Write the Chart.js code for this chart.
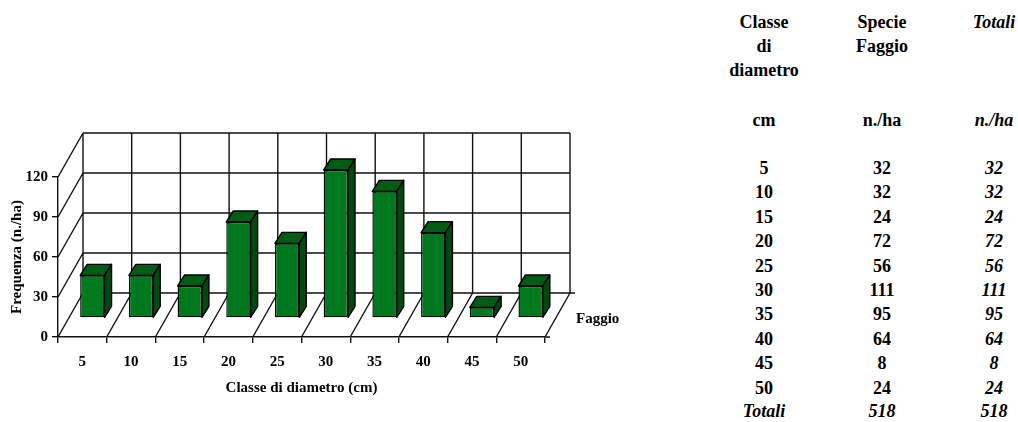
<!DOCTYPE html>
<html lang="it">
<head>
<meta charset="UTF-8">
<script src="https://cdn.jsdelivr.net/npm/chart.js"></script>
<title>Classe di diametro</title>
<style>
  html, body { margin: 0; padding: 0; background: #fff; }
  body { width: 1018px; height: 422px; position: relative; overflow: hidden; }
  #grafico { position: absolute; left: 0; top: 0; }
  .cella {
    position: absolute; width: 120px; text-align: center;
    font: bold 18px "Liberation Serif", "Times New Roman", serif;
    line-height: 24px; color: #000; white-space: nowrap;
  }
  .it { font-style: italic; }
</style>
</head>
<body>
<canvas id="grafico" width="660" height="422"></canvas>
<div id="tabella"></div>

<script>
  // dati
  const classi = ['5', '10', '15', '20', '25', '30', '35', '40', '45', '50'];
  const faggio = [32, 32, 24, 72, 56, 111, 95, 64, 8, 24];
  const totali = [32, 32, 24, 72, 56, 111, 95, 64, 8, 24];
  const yTicks = [0, 30, 60, 90, 120];

  // profondità 3D (pixel)
  const DX = 25, DY = -44;       // parete di fondo
  const BX = 10, BY = -19;       // faccia anteriore delle barre
  const PX = 7, PY = -11;        // spessore delle barre

  const verde = '#00781e', verdeTop = '#005c15', verdeLato = '#004a10';
  const linea = 1.4;

  const tre = {
    id: 'tre',
    beforeDatasetsDraw(chart) {
      const ctx = chart.ctx;
      const a = chart.chartArea;
      const y = chart.scales.y;
      const y0 = y.getPixelForValue(0), yMax = y.getPixelForValue(120);
      const n = classi.length;
      const step = (a.right - a.left) / n;
      ctx.save();
      ctx.strokeStyle = '#111';
      ctx.lineWidth = linea;
      ctx.beginPath();
      // parete sinistra e fondo: linee orizzontali
      yTicks.forEach(v => {
        const py = y.getPixelForValue(v) + DY;
        ctx.moveTo(a.left, y.getPixelForValue(v));
        ctx.lineTo(a.left + DX, py);
        ctx.moveTo(a.left + DX, py);
        ctx.lineTo(a.right + DX, py);
      });
      // verticali della parete di fondo e diagonali del pavimento
      for (let i = 0; i <= n; i++) {
        const bx = a.left + i * step;
        ctx.moveTo(bx + DX, y0 + DY);
        ctx.lineTo(bx + DX, yMax + DY);
        ctx.moveTo(bx, y0);
        ctx.lineTo(bx + DX, y0 + DY);
      }
      // tacche dell'asse di profondità
      ctx.moveTo(a.right, y0);
      ctx.lineTo(a.right + 5, y0);
      ctx.moveTo(a.right + DX, y0 + DY);
      ctx.lineTo(a.right + DX + 5, y0 + DY);
      ctx.stroke();

      // nome della serie
      ctx.fillStyle = '#000';
      ctx.font = 'bold 15px "Liberation Serif", serif';
      ctx.textBaseline = 'middle';
      ctx.fillText(chart.data.datasets[0].label, a.right + DX + 6, y0 + BY + 1);
      ctx.restore();

      ctx.save();
      ctx.translate(BX, BY);
    },
    afterDatasetsDraw(chart) {
      const ctx = chart.ctx;
      ctx.restore();
      ctx.save();
      ctx.strokeStyle = '#000';
      ctx.lineWidth = linea;
      ctx.lineJoin = 'round';
      chart.getDatasetMeta(0).data.forEach(bar => {
        const p = bar.getProps(['x', 'y', 'base', 'width'], true);
        const x0 = p.x - p.width / 2 + BX, x1 = p.x + p.width / 2 + BX;
        const t = p.y + BY, b = p.base + BY;
        ctx.beginPath();
        ctx.moveTo(x0, t);
        ctx.lineTo(x0 + PX, t + PY);
        ctx.lineTo(x1 + PX, t + PY);
        ctx.lineTo(x1, t);
        ctx.closePath();
        ctx.fillStyle = verdeTop;
        ctx.fill();
        ctx.stroke();
        ctx.beginPath();
        ctx.moveTo(x1, t);
        ctx.lineTo(x1 + PX, t + PY);
        ctx.lineTo(x1 + PX, b + PY);
        ctx.lineTo(x1, b);
        ctx.closePath();
        ctx.fillStyle = verdeLato;
        ctx.fill();
        ctx.stroke();
      });
      ctx.restore();
    }
  };

  const fontTick = { family: '"Liberation Serif", serif', size: 15, weight: 'bold' };
  const fontTitolo = { family: '"Liberation Serif", serif', size: 15, weight: 'bold' };

  new Chart(document.getElementById('grafico'), {
    type: 'bar',
    data: {
      labels: classi,
      datasets: [{
        label: 'Faggio',
        data: faggio,
        backgroundColor: verde,
        borderColor: '#000',
        borderWidth: linea,
        borderSkipped: false,
        barPercentage: 0.5,
        categoryPercentage: 1,
        clip: false
      }]
    },
    options: {
      responsive: false,
      animation: false,
      layout: { padding: { top: 177, right: 115, left: 0, bottom: 0 } },
      plugins: { legend: { display: false }, tooltip: { enabled: false } },
      scales: {
        x: {
          grid: { drawOnChartArea: false, tickLength: 6, color: '#111', lineWidth: linea },
          border: { color: '#111', width: linea },
          ticks: { color: '#000', font: fontTick, padding: 10, maxRotation: 0 },
          title: { display: true, text: 'Classe di diametro (cm)', color: '#000', font: fontTitolo, padding: { top: 0, bottom: 25 } },
          afterFit: s => { s.height = 85; }
        },
        y: {
          min: 0, max: 120,
          afterBuildTicks: s => { s.ticks = yTicks.map(v => ({ value: v })); },
          grid: { drawOnChartArea: false, tickLength: 6, color: '#111', lineWidth: linea },
          border: { color: '#111', width: linea },
          ticks: { color: '#000', font: fontTick, padding: 4 },
          title: { display: true, text: 'Frequenza (n./ha)', color: '#000', font: fontTitolo, padding: { top: 8, bottom: 0 } },
          afterFit: s => { s.width = 58; }
        }
      }
    },
    plugins: [tre]
  });

  // tabella a destra
  const tab = document.getElementById('tabella');
  const colX = [764, 882, 994];
  function cella(testo, col, yc, italic) {
    const d = document.createElement('div');
    d.className = 'cella' + (italic ? ' it' : '');
    d.textContent = testo;
    d.style.left = (colX[col] - 60) + 'px';
    d.style.top = (yc - 12) + 'px';
    tab.appendChild(d);
  }
  cella('Classe', 0, 22); cella('di', 0, 46); cella('diametro', 0, 70);
  cella('Specie', 1, 22); cella('Faggio', 1, 46);
  cella('Totali', 2, 22, true);
  cella('cm', 0, 120); cella('n./ha', 1, 120); cella('n./ha', 2, 120, true);
  const passo = 24.4;
  classi.forEach((c, i) => {
    const yc = 168 + i * passo;
    cella(c, 0, yc);
    cella(String(faggio[i]), 1, yc);
    cella(String(totali[i]), 2, yc, true);
  });
  const somma = faggio.reduce((s, v) => s + v, 0);
  const sommaTot = totali.reduce((s, v) => s + v, 0);
  cella('Totali', 0, 168 + 10 * passo - 1, true);
  cella(String(somma), 1, 168 + 10 * passo - 1, true);
  cella(String(sommaTot), 2, 168 + 10 * passo - 1, true);
</script>
</body>
</html>
